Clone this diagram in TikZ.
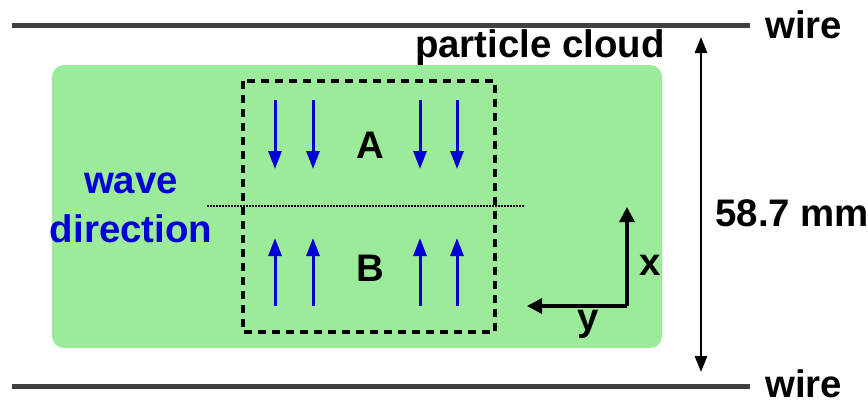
\documentclass[tikz,border=0pt]{standalone}
\usepackage{fontspec}
\setmainfont{Liberation Sans}
\definecolor{cloudgreen}{RGB}{155,235,155}
\definecolor{wiregray}{RGB}{64,64,64}
\definecolor{waveblue}{RGB}{0,0,215}
\usetikzlibrary{arrows.meta,positioning}

\begin{document}
\begin{tikzpicture}[x=0.5pt,y=-0.5pt,
    lbl/.style={inner sep=0pt, font=\fontsize{19.2}{24.5}\selectfont\bfseries},
    wireline/.style={line width=2.5pt, wiregray},
    spin/.style={-{Triangle[length=9pt,width=6.5pt]}, line width=1.5pt, waveblue},
    axis/.style={-{Triangle[length=7.5pt,width=7.5pt]}, line width=1.6pt, black},
    span/.style={{Triangle[length=8pt,width=6pt]}-{Triangle[length=8pt,width=6pt]}, line width=1.3pt}
  ]
    \useasboundingbox (0,0) rectangle (868,403);

    % wires and the cloud between them
    \coordinate (w1a) at (12,25);   \coordinate (w1b) at (750,25);
    \coordinate (w2a) at (12,386);  \coordinate (w2b) at (750,386);
    \draw[wireline] (w1a) -- (w1b);
    \draw[wireline] (w2a) -- (w2b);
    \node[lbl, anchor=west] (wtop) at (765,25)  {wire};
    \node[lbl, anchor=west] (wbot) at (765,384) {wire};

    \fill[cloudgreen, rounded corners=6pt] (52,65) rectangle (662,348);
    \node[lbl] (cloud) at (540,48) {particle cloud};

    % regions A and B
    \draw[line width=1.7pt, dash pattern=on 4pt off 3pt] (243,81) rectangle (495,332);
    \coordinate (mid1) at (207,206); \coordinate (mid2) at (525,206);
    \draw[line width=1pt, dash pattern=on 0.8pt off 0.7pt] (mid1) -- (mid2);
    \node[lbl] (la) at (370,145) {A};
    \node[lbl] (lb) at (370,268) {B};

    \foreach \px in {275,313,420,457} {
      \draw[spin] (\px,100) -- (\px,169);
      \draw[spin] (\px,306) -- (\px,238);
    }

    \node[lbl, waveblue, align=center] (wave) at (131,208) {wave\\direction};

    % coordinate axes
    \coordinate (orig) at (627,306);
    \coordinate (xend) at (627,207);
    \coordinate (yend) at (527,306);
    \draw[axis] (orig) -- (xend);
    \draw[axis] (orig) -- (yend);
    \node[lbl] (xlbl) at (650,265) {x};
    \node[lbl] (ylbl) at (588,324) {y};

    % wire spacing
    \coordinate (s1) at (701,37);
    \coordinate (s2) at (701,372);
    \draw[span] (s1) -- (s2);
    \node[lbl, anchor=west] (gap) at (715,213) {58.7 mm};
\end{tikzpicture}
\end{document}
